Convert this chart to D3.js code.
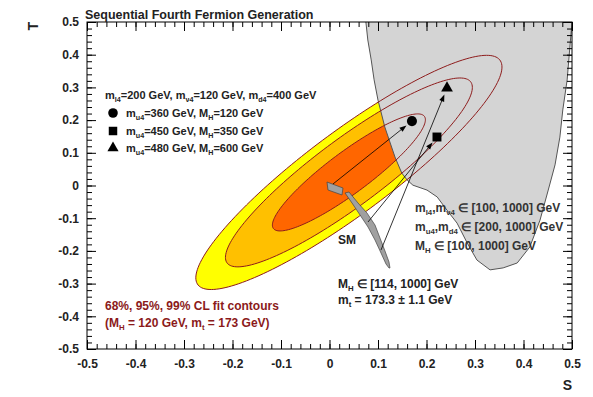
<!DOCTYPE html>
<html><head><meta charset="utf-8">
<script src="https://cdn.jsdelivr.net/npm/d3@7"></script>
<style>
body{margin:0;background:#fff}
text{font-family:"Liberation Sans",Arial,Helvetica,sans-serif;font-weight:bold}
</style>
</head><body><svg id="c" width="593" height="397"></svg>
<script>
// ---------- data ----------
const sTicks = [-0.5,-0.4,-0.3,-0.2,-0.1,0,0.1,0.2,0.3,0.4,0.5];
const tTicks = [-0.5,-0.4,-0.3,-0.2,-0.1,0,0.1,0.2,0.3,0.4,0.5];
const fitCenter = [0.04, 0.04];      // S0, T0
const fitSigma  = [0.104, 0.118];    // sigma S, sigma T
const fitRho    = 0.90;              // correlation
const clLevels  = ["99%", "95%", "68%"];
const clDeltaChi2 = [9.21, 5.99, 2.30];
const clColors  = ["#ffff00", "#ffc000", "#ff6600"];
// allowed 4th generation region (S,T)
const allowedRegion = [
 [0.075,0.5],[0.079,0.445],[0.086,0.384],[0.092,0.323],[0.100,0.261],[0.114,0.179],
 [0.135,0.087],[0.149,0.038],[0.160,0.017],[0.172,0.001],[0.201,-0.014],[0.222,-0.035],
 [0.242,-0.075],[0.263,-0.115],[0.284,-0.176],[0.304,-0.228],[0.331,-0.258],[0.358,-0.252],
 [0.387,-0.237],[0.413,-0.188],[0.434,-0.106],[0.451,-0.014],[0.465,0.063],[0.475,0.148],
 [0.481,0.231],[0.490,0.323],[0.496,0.430],[0.5,0.5]
];
// SM prediction band (MH 114..1000 GeV)
const smBandLeft = [[0.0320,-0.0229],[0.0464,-0.0535],[0.0629,-0.0902],[0.0794,-0.1269],
 [0.0938,-0.1667],[0.1062,-0.2064],[0.1165,-0.2401],[0.1227,-0.2523]];
const smBandRight = [[0.0402,-0.0199],[0.0588,-0.0535],[0.0773,-0.0841],[0.0938,-0.1208],
 [0.1041,-0.1606],[0.1144,-0.2003],[0.1227,-0.2339],[0.1247,-0.2523]];
const smPoint = [[-0.0052,0.0107],[0.0278,-0.0076],[0.0258,-0.029],[-0.0031,-0.0138]];
// 4th generation benchmark points
const pointShapes = ["circle", "square", "triangle"];
const pointS = [0.170, 0.2216, 0.2423];
const pointT = [0.197, 0.1483, 0.2982];
const arrowStartS = [0.0072, 0.0794, 0.1062];
const arrowStartT = [0.0046, -0.1116, -0.1972];

// ---------- scales ----------
const svg = d3.select("#c");
const x = d3.scaleLinear().domain([-0.5,0.5]).range([87,572]);
const y = d3.scaleLinear().domain([-0.5,0.5]).range([349,22]);
const line = d3.line().x(d=>x(d[0])).y(d=>y(d[1]));

svg.append("defs").append("clipPath").attr("id","frame")
  .append("rect").attr("x",87).attr("y",22).attr("width",485).attr("height",327);

function contour(k){
  const pts=[]; const r=Math.sqrt(k), q=Math.sqrt(1-fitRho*fitRho);
  for(let i=0;i<=360;i+=2){
    const a=i*Math.PI/180, u1=r*Math.cos(a), u2=r*Math.sin(a);
    pts.push([fitCenter[0]+fitSigma[0]*u1, fitCenter[1]+fitSigma[1]*(fitRho*u1+q*u2)]);
  }
  return pts;
}

const g = svg.append("g").attr("clip-path","url(#frame)");
// filled contours
clDeltaChi2.forEach((k,i)=>{
  g.append("path").attr("d",line(contour(k))).attr("fill",clColors[i]).attr("stroke","none");
});
// allowed region
g.append("path").attr("d",line(allowedRegion.concat([[0.5,0.6],[0.07,0.6]]))+"Z")
  .attr("fill","#d4d4d4").attr("stroke","none");
g.append("path").attr("d",line(allowedRegion)).attr("fill","none").attr("stroke","#555").attr("stroke-width",1);
// contour lines
clDeltaChi2.forEach((k,i)=>{
  g.append("path").attr("d",line(contour(k))+"Z").attr("fill","none")
   .attr("stroke","#8e1c1c").attr("stroke-width",1);
});
// SM band and point
g.append("path").attr("d",line(smBandLeft.concat(smBandRight.slice().reverse()))+"Z")
  .attr("fill","#a0a0a0").attr("stroke","#444").attr("stroke-width",0.7);
g.append("path").attr("d",line(smPoint)+"Z")
  .attr("fill","#a0a0a0").attr("stroke","#444").attr("stroke-width",0.7);

// arrows
pointS.forEach((s,i)=>{
  const x0=x(arrowStartS[i]), y0=y(arrowStartT[i]), x1=x(s), y1=y(pointT[i]);
  const L=Math.hypot(x1-x0,y1-y0), ux=(x1-x0)/L, uy=(y1-y0)/L;
  const tx=x1-ux*7, ty=y1-uy*7;
  g.append("line").attr("x1",x0).attr("y1",y0).attr("x2",tx-ux*4).attr("y2",ty-uy*4)
   .attr("stroke","#000").attr("stroke-width",0.8);
  const bx=tx-ux*7, by=ty-uy*7, px=-uy*2.6, py=ux*2.6;
  g.append("path").attr("d",`M${tx},${ty}L${bx+px},${by+py}L${bx-px},${by-py}Z`).attr("fill","#000");
});
// markers
const sym = {circle:d3.symbolCircle, square:d3.symbolSquare, triangle:d3.symbolTriangle};
const symSize = {circle:80, square:80, triangle:60};
pointS.forEach((s,i)=>{
  g.append("path").attr("d",d3.symbol().type(sym[pointShapes[i]]).size(symSize[pointShapes[i]])())
   .attr("transform",`translate(${x(s)},${y(pointT[i])})`).attr("fill","#000");
});

// ---------- axes ----------
const fmt = v => String(+v.toFixed(1));
const minorS = d3.range(-0.5,0.5001,0.02).map(v=>+v.toFixed(2));
function styleAxis(sel){ sel.select(".domain").remove(); sel.selectAll("line").attr("stroke","#000");
  sel.selectAll("text").attr("font-size",12).attr("font-weight","bold").attr("fill","#222")
     .attr("font-family","Liberation Sans, Arial, sans-serif"); }
svg.append("g").attr("transform","translate(0,349)")
  .call(d3.axisBottom(x).tickValues(sTicks).tickSize(-9).tickPadding(10).tickFormat(fmt)).call(styleAxis);
svg.append("g").attr("transform","translate(0,349)")
  .call(d3.axisBottom(x).tickValues(minorS).tickSize(-5).tickFormat("")).call(styleAxis);
svg.append("g").attr("transform","translate(0,22)")
  .call(d3.axisTop(x).tickValues(sTicks).tickSize(-9).tickFormat("")).call(styleAxis);
svg.append("g").attr("transform","translate(0,22)")
  .call(d3.axisTop(x).tickValues(minorS).tickSize(-5).tickFormat("")).call(styleAxis);
svg.append("g").attr("transform","translate(87,0)")
  .call(d3.axisLeft(y).tickValues(tTicks).tickSize(-9).tickPadding(8).tickFormat(fmt)).call(styleAxis);
svg.append("g").attr("transform","translate(87,0)")
  .call(d3.axisLeft(y).tickValues(minorS).tickSize(-5).tickFormat("")).call(styleAxis);
svg.append("g").attr("transform","translate(572,0)")
  .call(d3.axisRight(y).tickValues(tTicks).tickSize(-9).tickFormat("")).call(styleAxis);
svg.append("g").attr("transform","translate(572,0)")
  .call(d3.axisRight(y).tickValues(minorS).tickSize(-5).tickFormat("")).call(styleAxis);
svg.append("rect").attr("x",87).attr("y",22).attr("width",485).attr("height",327)
  .attr("fill","none").attr("stroke","#000").attr("stroke-width",1);

// axis titles
svg.append("text").attr("transform","translate(38,22) rotate(-90)").attr("text-anchor","end")
  .attr("font-size",14).attr("fill","#222").text("T");
svg.append("text").attr("x",572).attr("y",390).attr("text-anchor","end")
  .attr("font-size",14).attr("fill","#222").text("S");
svg.append("text").attr("x",85).attr("y",19).attr("font-size",12.5).attr("fill","#222")
  .text("Sequential Fourth Fermion Generation");

// rich text helper: parts = [text, sub, text, sub, ...]
function rich(xp, yp, size, color, parts){
  const t = svg.append("text").attr("x",xp).attr("y",yp).attr("font-size",size).attr("fill",color);
  parts.forEach((p,i)=>{
    if(i%2===0){ t.append("tspan").attr("dy", i===0?0:-size*0.28).text(p); }
    else if(p!==""){ t.append("tspan").attr("dy",size*0.28).attr("font-size",size*0.65).text(p); }
    else { t.append("tspan").attr("dy",size*0.28).text(""); }
  });
  return t;
}
const legendLines = [
  ["m","l4","=200 GeV, m","ν4","=120 GeV, m","d4","=400 GeV"],
  ["m","u4","=360 GeV, M","H","=120 GeV"],
  ["m","u4","=450 GeV, M","H","=350 GeV"],
  ["m","u4","=480 GeV, M","H","=600 GeV"]
];
const legendY = [99,117,135,152];
rich(105, legendY[0], 11, "#222", legendLines[0]);
for(let i=1;i<4;i++){
  rich(126, legendY[i], 11, "#222", legendLines[i]);
  svg.append("path").attr("d",d3.symbol().type(sym[pointShapes[i-1]]).size(symSize[pointShapes[i-1]]*0.9)())
    .attr("transform",`translate(113,${legendY[i]-4})`).attr("fill","#000");
}
rich(415, 212, 12, "#333", ["m","l4",",m","ν4"," ∈ [100, 1000] GeV"]);
rich(415, 231, 12, "#333", ["m","u4",",m","d4"," ∈ [200, 1000] GeV"]);
rich(415, 250, 12, "#333", ["M","H"," ∈ [100, 1000] GeV"]);
svg.append("text").attr("x",338).attr("y",244).attr("font-size",12).attr("fill","#222").text("SM");
rich(338, 288, 12, "#222", ["M","H"," ∈ [114, 1000] GeV"]);
rich(338, 304, 12, "#222", ["m","t"," = 173.3 ± 1.1 GeV"]);
rich(105, 310, 12, "#8b1a1a", ["68%, 95%, 99% CL fit contours"]);
rich(105, 327, 12, "#8b1a1a", ["(M","H"," = 120 GeV, m","t"," = 173 GeV)"]);
</script></body></html>
